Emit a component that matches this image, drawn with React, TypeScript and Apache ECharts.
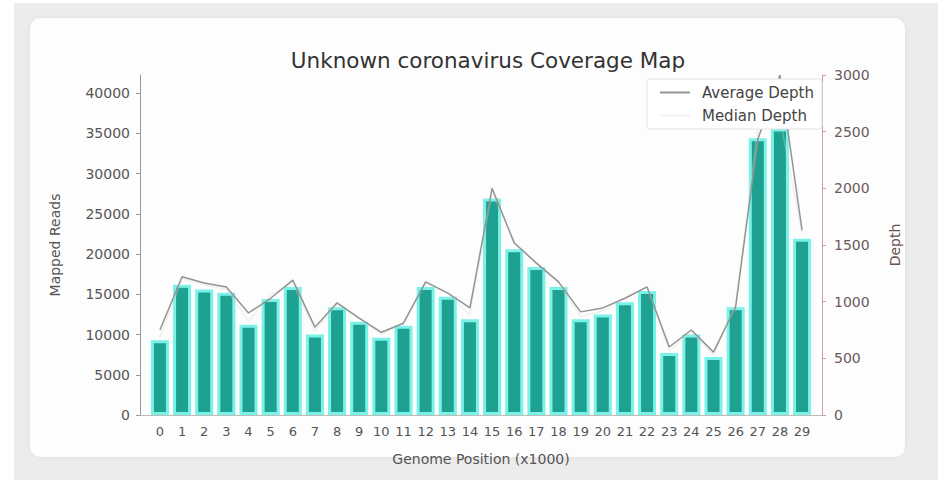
import React, { useEffect, useRef } from "react";
import * as echarts from "echarts";

const categories = Array.from({ length: 30 }, (_, i) => String(i));
const mappedReads = [
  9300, 16200, 15600, 15200, 11200, 14400, 15900, 10000, 13400, 11600,
  9600, 11100, 15900, 14700, 11900, 26900, 20600, 18400, 15900, 11900,
  12500, 14000, 15400, 7700, 10000, 7200, 13400, 34400, 35600, 21900,
];
const averageDepth = [
  750, 1220, 1165, 1130, 900, 1030, 1190, 775, 990, 855,
  730, 810, 1175, 1075, 945, 2000, 1520, 1340, 1175, 910,
  945, 1030, 1130, 600, 750, 555, 955, 2430, 3000, 1630,
];
const medianDepth = [
  690, 1200, 1150, 1110, 830, 1060, 1170, 740, 980, 850,
  710, 820, 1170, 1080, 880, 1980, 1510, 1350, 1170, 870,
  920, 1030, 1130, 570, 730, 530, 980, 2520, 2620, 1600,
];
const leftTicks = [0, 5000, 10000, 15000, 20000, 25000, 30000, 35000, 40000];
const rightTicks = [0, 500, 1000, 1500, 2000, 2500, 3000];

export default function App() {
  const ref = useRef<HTMLDivElement>(null);
  useEffect(() => {
    if (!ref.current) return;
    const chart = echarts.init(ref.current, null, { renderer: "svg" });
    const font = "DejaVu Sans";
    const xPositions = categories.map((_, i) => i);
    chart.setOption({
      animation: false,
      textStyle: { fontFamily: font },
      title: {
        text: "Unknown coronavirus Coverage Map",
        left: 483,
        top: 44,
        textAlign: "center",
        textStyle: { fontSize: 21.5, fontWeight: "normal", color: "#333", fontFamily: font },
      },
      legend: {
        orient: "vertical",
        right: 124,
        top: 79,
        backgroundColor: "#fff",
        borderColor: "#e2e2e2",
        borderWidth: 1,
        borderRadius: 3,
        padding: [6, 8, 6, 13],
        itemGap: 8,
        itemWidth: 30,
        itemHeight: 2,
        icon: "rect",
        textStyle: { fontSize: 15, color: "#444", fontFamily: font, padding: [0, 0, 0, 7] },
        data: ["Average Depth", "Median Depth"],
      },
      grid: { left: 140, right: 124, top: 75, bottom: 65 },
      xAxis: {
        type: "value",
        min: -0.9,
        max: 29.9,
        name: "Genome Position (x1000)",
        nameLocation: "middle",
        nameGap: 37,
        nameTextStyle: { fontSize: 14, color: "#555" },
        splitLine: { show: false },
        axisLine: { show: true, onZero: false, lineStyle: { color: "#bbb" } },
        axisTick: { show: false },
        axisLabel: {
          customValues: xPositions,
          fontSize: 13,
          color: "#555",
          margin: 10,
          formatter: (v: number) => categories[Math.round(v)] ?? "",
        },
      },
      yAxis: [
        {
          type: "value",
          min: 0,
          max: 42250,
          name: "Mapped Reads",
          nameLocation: "middle",
          nameGap: 78,
          nameTextStyle: { fontSize: 14, color: "#555" },
          splitLine: { show: false },
          axisLine: { show: true, onZero: false, lineStyle: { color: "#999" } },
          axisTick: { show: true, customValues: leftTicks, length: 4, lineStyle: { color: "#999" } },
          axisLabel: {
            customValues: leftTicks,
            fontSize: 14,
            color: "#555",
            margin: 10,
            formatter: (v: number) => String(v),
          },
        },
        {
          type: "value",
          min: 0,
          max: 3000,
          name: "Depth",
          nameLocation: "middle",
          nameGap: 66,
          nameTextStyle: { fontSize: 14, color: "#6a5050" },
          splitLine: { show: false },
          axisLine: { show: true, onZero: false, lineStyle: { color: "#c8a3ad" } },
          axisTick: { show: true, customValues: rightTicks, length: 4, lineStyle: { color: "#c8a3ad" } },
          axisLabel: {
            customValues: rightTicks,
            fontSize: 14,
            color: "#6a5a5a",
            margin: 12,
            formatter: (v: number) => String(v),
          },
        },
      ],
      series: [
        {
          name: "Mapped Reads",
          type: "bar",
          data: mappedReads.map((v, i) => [xPositions[i], v]),
          barWidth: 18,
          itemStyle: { color: "#1fa191", borderColor: "#7af2e8", borderWidth: 3 },
          z: 2,
        },
        {
          name: "Median Depth",
          type: "line",
          yAxisIndex: 1,
          data: medianDepth.map((v, i) => [xPositions[i], v]),
          symbol: "none",
          lineStyle: { color: "rgba(215,215,215,0.35)", width: 1.5 },
          itemStyle: { color: "rgba(225,225,225,0.5)" },
          z: 2,
        },
        {
          name: "Average Depth",
          type: "line",
          yAxisIndex: 1,
          data: averageDepth.map((v, i) => [xPositions[i], v]),
          symbol: "none",
          lineStyle: { color: "#939393", width: 1.5 },
          itemStyle: { color: "#939393" },
          z: 2,
        },
      ],
    });
    return () => chart.dispose();
  }, []);

  return (
    <div
      style={{
        position: "fixed",
        left: 0,
        top: 0,
        width: 946,
        height: 480,
        background: "#ffffff",
        overflow: "hidden",
      }}
    >
      <div
        style={{
          position: "absolute",
          left: 14,
          top: 3,
          width: 924,
          height: 477,
          background: "#ececec",
        }}
      />
      <div
        style={{
          position: "absolute",
          left: 30,
          top: 18,
          width: 875,
          height: 439,
          background: "#fdfdfd",
          borderRadius: 10,
          boxShadow: "0 0 5px rgba(0,0,0,0.06)",
        }}
      />
      <div ref={ref} style={{ position: "absolute", left: 0, top: 0, width: 946, height: 480 }} />
    </div>
  );
}
